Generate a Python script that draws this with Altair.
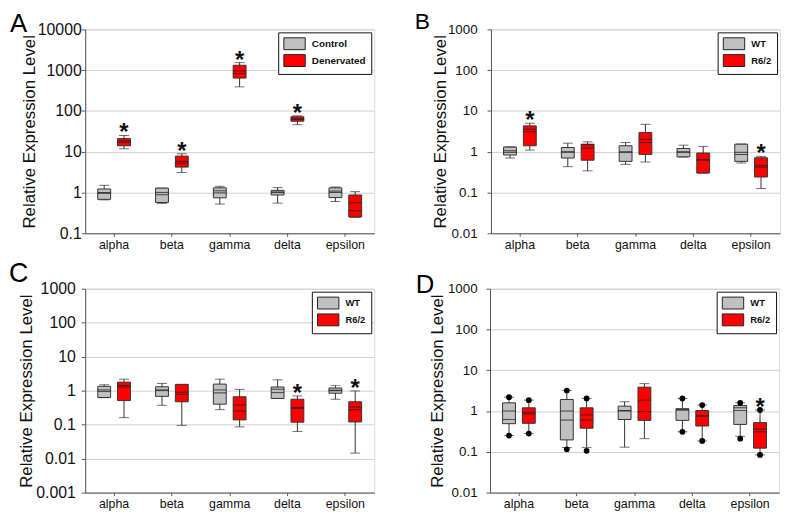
import altair as alt
import pandas as pd

FONT = "Liberation Sans"
CATS = ["alpha", "beta", "gamma", "delta", "epsilon"]
STAT_NAMES = ["lw", "q1", "med", "mean", "q3", "uw"]

# ---------------- Panel A ----------------
A_GROUPS = ["Control", "Denervated"]
A_CONTROL = {
    "lw":   [0.66, 0.54, 0.52, 0.55, 0.60],
    "q1":   [0.68, 0.57, 0.74, 0.87, 0.75],
    "med":  [0.95, 1.00, 0.98, 1.00, 1.08],
    "mean": [1.00, 0.88, 1.10, 1.03, 1.00],
    "q3":   [1.22, 1.28, 1.30, 1.13, 1.30],
    "uw":   [1.50, 1.28, 1.42, 1.32, 1.36],
}
A_DENERV = {
    "lw":   [11.8, 3.1, 390, 46, 0.245],
    "q1":   [14.0, 4.2, 640, 56, 0.25],
    "med":  [17.0, 5.2, 830, 62, 0.36],
    "mean": [18.5, 5.8, 960, 64, 0.56],
    "q3":   [21.0, 7.8, 1320, 72, 0.87],
    "uw":   [25.0, 8.9, 1530, 76, 1.05],
}
A_STARS = {"Control": [], "Denervated": ["alpha", "beta", "gamma", "delta"]}

# ---------------- Panel B ----------------
B_GROUPS = ["WT", "R6/2"]
B_WT = {
    "lw":   [0.70, 0.43, 0.49, 0.74, 0.53],
    "q1":   [0.83, 0.70, 0.58, 0.75, 0.58],
    "med":  [0.96, 1.00, 0.96, 0.96, 0.96],
    "mean": [1.06, 0.97, 1.00, 1.00, 0.85],
    "q3":   [1.30, 1.27, 1.40, 1.20, 1.53],
    "uw":   [1.32, 1.62, 1.68, 1.45, 1.55],
}
B_R62 = {
    "lw":   [1.10, 0.34, 0.56, 0.30, 0.125],
    "q1":   [1.40, 0.62, 0.86, 0.30, 0.24],
    "med":  [3.10, 1.23, 1.68, 0.64, 0.46],
    "mean": [3.55, 1.48, 2.00, 0.62, 0.42],
    "q3":   [4.30, 1.53, 2.95, 0.93, 0.71],
    "uw":   [5.00, 1.75, 4.70, 1.35, 0.77],
}
B_STARS = {"WT": [], "R6/2": ["alpha", "epsilon"]}

# ---------------- Panel C ----------------
C_WT = {
    "lw":   [0.62, 0.37, 0.275, 0.59, 0.56],
    "q1":   [0.63, 0.68, 0.40, 0.59, 0.84],
    "med":  [1.05, 1.05, 0.86, 0.88, 1.00],
    "mean": [0.95, 1.00, 1.05, 1.10, 1.02],
    "q3":   [1.34, 1.30, 1.56, 1.28, 1.20],
    "uw":   [1.49, 1.63, 2.18, 2.08, 1.43],
}
C_R62 = {
    "lw":   [0.16, 0.095, 0.086, 0.063, 0.0145],
    "q1":   [0.51, 0.47, 0.138, 0.118, 0.12],
    "med":  [1.28, 0.90, 0.25, 0.30, 0.275],
    "mean": [1.43, 0.78, 0.38, 0.32, 0.33],
    "q3":   [1.78, 1.53, 0.66, 0.56, 0.47],
    "uw":   [2.18, 1.53, 1.09, 0.70, 0.98],
}
C_STARS = {"WT": [], "R6/2": ["delta", "epsilon"]}

# ---------------- Panel D ----------------
D_WT = {
    "lw":   [0.25, 0.127, 0.13, 0.31, 0.24],
    "q1":   [0.49, 0.196, 0.62, 0.59, 0.47],
    "med":  [0.62, 0.60, 1.00, 1.05, 1.03],
    "mean": [1.00, 1.00, 1.03, 1.10, 1.20],
    "q3":   [1.59, 1.92, 1.32, 1.14, 1.37],
    "uw":   [2.19, 3.18, 1.69, 2.03, 1.59],
}
D_R62 = {
    "lw":   [0.28, 0.127, 0.21, 0.185, 0.084],
    "q1":   [0.50, 0.38, 0.59, 0.43, 0.123],
    "med":  [0.85, 0.60, 0.97, 0.75, 0.31],
    "mean": [0.93, 0.80, 1.85, 0.77, 0.36],
    "q3":   [1.20, 1.20, 3.85, 1.03, 0.52],
    "uw":   [1.85, 2.03, 4.70, 1.40, 1.06],
}
D_STARS = {"WT": [], "R6/2": ["epsilon"]}
# outlier dots (category, value)
D_WT_DOT_CATS = ["alpha", "alpha", "beta", "beta", "delta", "delta", "epsilon", "epsilon"]
D_WT_DOT_VALS = [0.25, 2.19, 0.115, 3.18, 0.31, 2.03, 0.21, 1.59]
D_R62_DOT_CATS = ["alpha", "alpha", "beta", "beta", "delta", "delta", "epsilon", "epsilon"]
D_R62_DOT_VALS = [0.28, 1.85, 0.106, 2.03, 0.185, 1.40, 0.084, 1.06]

COLORS = ["#c0c0c0", "#ff0000"]
RECT = "M-1.8,-1L1.8,-1L1.8,1L-1.8,1Z"
PLOT_H = 206


def box_frame(groups, stats_list, stars):
    rows = []
    for g, stats in zip(groups, stats_list):
        for i, c in enumerate(CATS):
            r = {"cat": c, "group": g, "star": c in stars[g]}
            for s in STAT_NAMES:
                r[s] = stats[s][i]
            rows.append(r)
    return pd.DataFrame(rows)


def dot_frame(groups, cats_list, vals_list):
    rows = []
    for g, cs, vs in zip(groups, cats_list, vals_list):
        for c, v in zip(cs, vs):
            rows.append({"cat": c, "group": g, "v": v})
    return pd.DataFrame(rows, columns=["cat", "group", "v"])


def panel(letter, df, groups, ydomain, yticks, label_size, legend_label_size,
          letter_size, title_x, label_pad, letter_x, letter_y, dots=None):
    xenc = alt.X("cat:N", sort=CATS,
                 scale=alt.Scale(paddingInner=0, paddingOuter=0),
                 axis=alt.Axis(title=None, labelAngle=0, labelFontSize=12.5,
                               labelFont=FONT, labelColor="#111",
                               domainColor="#555", tickColor="#555",
                               tickSize=3, labelPadding=2, grid=False))
    xo = alt.XOffset("group:N", sort=groups,
                     scale=alt.Scale(domain=groups, paddingInner=0.35,
                                     paddingOuter=0.635))
    yscale = alt.Scale(type="log", domain=ydomain, nice=False)
    yaxis = alt.Axis(values=yticks, format="~g", labelFontSize=label_size,
                     labelFont=FONT, labelColor="#111", titleFont=FONT,
                     titleFontSize=17, titleFontWeight="normal",
                     titleColor="#111", domainColor="#555", tickColor="#555",
                     tickSize=4, labelPadding=label_pad, titleX=title_x,
                     titleY=PLOT_H / 2, titleBaseline="bottom",
                     titleAlign="center", titleAngle=270,
                     grid=True, gridColor="#cfcfcf")
    TITLE = "Relative Expression Level"

    def Y(field):
        return alt.Y(field, type="quantitative", scale=yscale, axis=yaxis,
                     title=TITLE)

    base = alt.Chart(df)
    whisk = base.mark_rule(color="#333", strokeWidth=1).encode(
        x=xenc, xOffset=xo, y=Y("lw"), y2="uw:Q")
    cap_lo = base.mark_tick(color="#333", size=10, thickness=1).encode(
        x=xenc, xOffset=xo, y=Y("lw"))
    cap_hi = base.mark_tick(color="#333", size=10, thickness=1).encode(
        x=xenc, xOffset=xo, y=Y("uw"))
    box = base.mark_bar(stroke="#333", strokeWidth=1).encode(
        x=xenc, xOffset=xo, y=Y("q1"), y2="q3:Q",
        fill=alt.Fill("group:N", sort=groups,
                      scale=alt.Scale(domain=groups, range=COLORS),
                      legend=alt.Legend(title=None, orient="top-right",
                                        offset=3, fillColor="white",
                                        strokeColor="#111", padding=5,
                                        rowPadding=0, symbolType=RECT,
                                        symbolSize=144, symbolOffset=5,
                                        symbolStrokeColor="#222",
                                        symbolStrokeWidth=1,
                                        symbolOpacity=1,
                                        labelFont=FONT,
                                        labelFontSize=legend_label_size,
                                        labelFontWeight="bold",
                                        labelColor="#111",
                                        labelOffset=11)))
    med = base.mark_tick(color="#222", size=13, thickness=1.2).encode(
        x=xenc, xOffset=xo, y=Y("med"))
    mean = base.mark_tick(color="#222", size=13, thickness=1.0,
                          opacity=0.8).encode(
        x=xenc, xOffset=xo, y=Y("mean"))
    stars = base.transform_filter("datum.star").mark_text(
        text="*", fontSize=24, font=FONT, fontWeight="bold", dy=5,
        baseline="alphabetic", color="#111").encode(
        x=xenc, xOffset=xo, y=Y("uw"))
    label = alt.Chart(pd.DataFrame({"t": [letter]})).mark_text(
        fontSize=letter_size, font=FONT, align="left",
        baseline="alphabetic", color="#000").encode(
        text="t:N", x=alt.value(letter_x), y=alt.value(letter_y))
    layers = [whisk, cap_lo, cap_hi, box, med, mean, stars]
    if dots is not None:
        dl = alt.Chart(dots).mark_point(filled=True, color="black", size=34,
                                        opacity=1).encode(
            x=xenc, xOffset=xo, y=Y("v"))
        layers.append(dl)
    layers.append(label)
    return alt.layer(*layers).properties(width=292, height=PLOT_H)


dfA = box_frame(A_GROUPS, [A_CONTROL, A_DENERV], A_STARS)
dfB = box_frame(B_GROUPS, [B_WT, B_R62], B_STARS)
dfC = box_frame(B_GROUPS, [C_WT, C_R62], C_STARS)
dfD = box_frame(B_GROUPS, [D_WT, D_R62], D_STARS)
dotsD = dot_frame(B_GROUPS, [D_WT_DOT_CATS, D_R62_DOT_CATS],
                  [D_WT_DOT_VALS, D_R62_DOT_VALS])

pA = panel("A", dfA, A_GROUPS, [0.1, 10000], [0.1, 1, 10, 100, 1000, 10000],
           16, 10, 26, -47, 0, -76, 3)
pB = panel("B", dfB, B_GROUPS, [0.01, 1000], [0.01, 0.1, 1, 10, 100, 1000],
           13.5, 9.5, 23, -42, 10, -77, 0)
pC = panel("C", dfC, B_GROUPS, [0.001, 1000],
           [0.001, 0.01, 0.1, 1, 10, 100, 1000], 16, 9.5, 27, -50, 6, -77, -7)
pD = panel("D", dfD, B_GROUPS, [0.01, 1000], [0.01, 0.1, 1, 10, 100, 1000],
           13.5, 9.5, 26, -44, 9, -75, 4, dots=dotsD)

RES = dict(x="independent", y="independent", xOffset="independent",
           fill="independent")

top = alt.hconcat(pA, pB, spacing=39).resolve_scale(**RES).resolve_legend(
    fill="independent")
bot = alt.hconcat(pC, pD, spacing=40).resolve_scale(**RES).resolve_legend(
    fill="independent")
chart = alt.vconcat(top, bot, spacing=8).resolve_scale(**RES).resolve_legend(
    fill="independent").properties(
    padding={"left": 0, "top": 0, "right": 0, "bottom": 0}
).configure_view(stroke="#888", strokeWidth=1).configure(font=FONT)

chart.save("out.html", embed_options={"renderer": "svg", "actions": False})
